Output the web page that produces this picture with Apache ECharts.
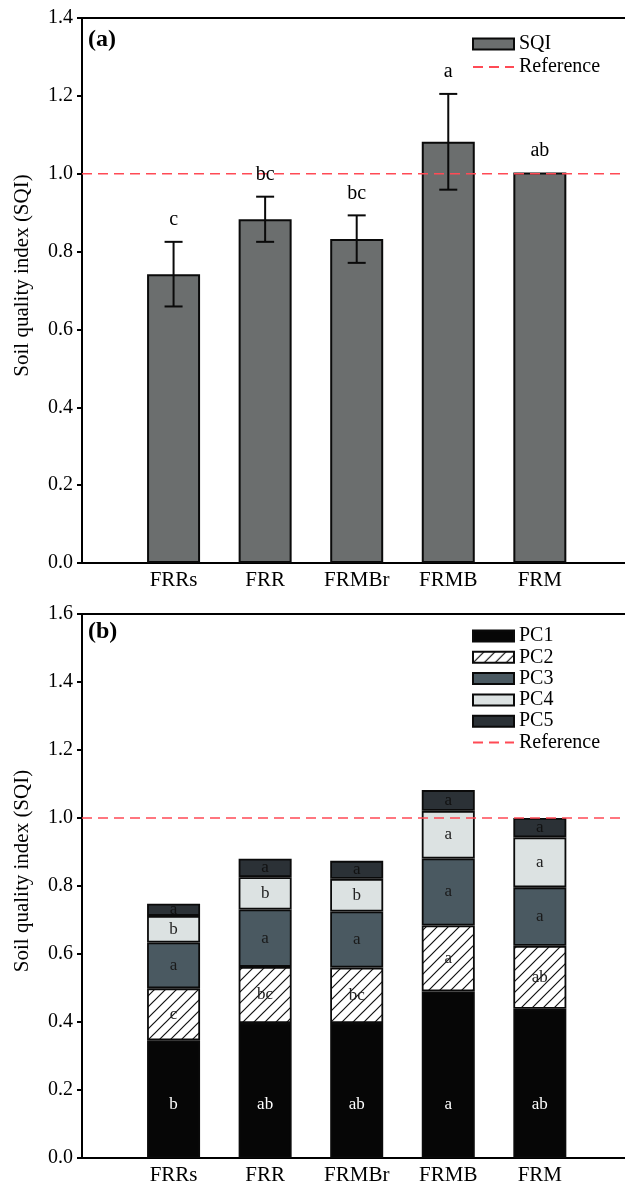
<!DOCTYPE html>
<html>
<head>
<meta charset="utf-8">
<script src="https://cdn.jsdelivr.net/npm/echarts@6/dist/echarts.min.js"></script>
<style>
html,body{margin:0;padding:0;background:#fff;}
#c{width:625px;height:1184px;}
</style>
</head>
<body>
<div id="c"></div>
<script>
// ---- data ----
const categories = ['FRRs', 'FRR', 'FRMBr', 'FRMB', 'FRM'];
const sqi = [0.742, 0.883, 0.832, 1.082, 1.003];
const sqiErr = [0.083, 0.058, 0.061, 0.123, 0];
const sqiLetters = ['c', 'bc', 'bc', 'a', 'ab'];
const pc1 = [0.346, 0.397, 0.397, 0.490, 0.439];
const pc2 = [0.153, 0.165, 0.163, 0.194, 0.185];
const pc3 = [0.135, 0.169, 0.165, 0.197, 0.172];
const pc4 = [0.078, 0.095, 0.096, 0.140, 0.147];
const pc5 = [0.036, 0.054, 0.053, 0.061, 0.057];
const pc1Letters = ['b', 'ab', 'ab', 'a', 'ab'];
const pc2Letters = ['c', 'bc', 'bc', 'a', 'ab'];
const pc3Letters = ['a', 'a', 'a', 'a', 'a'];
const pc4Letters = ['b', 'b', 'b', 'a', 'a'];
const pc5Letters = ['a', 'a', 'a', 'a', 'a'];
const referenceValue = 1.0;

// axis slots: empty slot before first and after last category
const axisCats = [''].concat(categories, ['']);

const FONT = '"Liberation Serif", "Times New Roman", serif';

// hatch pattern for PC2
function hatch() {
  const s = 11;
  const cv = document.createElement('canvas');
  cv.width = s; cv.height = s;
  const ctx = cv.getContext('2d');
  ctx.fillStyle = '#fff';
  ctx.fillRect(0, 0, s, s);
  ctx.strokeStyle = '#111';
  ctx.lineWidth = 1.2;
  ctx.beginPath();
  ctx.moveTo(-1, s + 1); ctx.lineTo(s + 1, -1);
  ctx.moveTo(-s / 2 - 1, s / 2 + 1); ctx.lineTo(s / 2 + 1, -s / 2 - 1);
  ctx.moveTo(s / 2 - 1, 1.5 * s + 1); ctx.lineTo(1.5 * s + 1, s / 2 - 1);
  ctx.stroke();
  return cv;
}

const pairs = arr => arr.map((v, i) => [categories[i], v]);

function xAxisCfg(gi) {
  return {
    type: 'category', gridIndex: gi, data: axisCats, boundaryGap: false,
    axisLine: { show: true, lineStyle: { color: '#000', width: 2 } },
    axisTick: { show: false },
    splitLine: { show: false },
    axisLabel: { interval: 0, fontFamily: FONT, fontSize: 21, color: '#000', margin: 7 }
  };
}
function topAxisCfg(gi) {
  return {
    type: 'value', gridIndex: gi, min: 0, max: 1, position: 'top',
    axisLine: { show: true, onZero: false, lineStyle: { color: '#000', width: 2 } },
    axisTick: { show: false }, axisLabel: { show: false }, splitLine: { show: false }
  };
}
function yAxisCfg(gi, max) {
  return {
    type: 'value', gridIndex: gi, min: 0, max: max, interval: 0.2,
    name: 'Soil quality index (SQI)', nameLocation: 'middle', nameGap: 49,
    nameTextStyle: { fontFamily: FONT, fontSize: 21, color: '#000', padding: [0, 0, 0, 30] },
    axisLine: { show: true, lineStyle: { color: '#000', width: 2 } },
    axisTick: { show: true, inside: false, length: 5, lineStyle: { color: '#000', width: 2 } },
    splitLine: { show: false },
    axisLabel: { fontFamily: FONT, fontSize: 20, color: '#000', margin: 9, formatter: v => v.toFixed(1) }
  };
}

const refLine = (xi, yi) => ({
  name: 'Reference', type: 'line', xAxisIndex: xi, yAxisIndex: yi,
  data: [[0, referenceValue], [axisCats.length - 1, referenceValue]],
  symbol: 'none', silent: true, z: 5,
  lineStyle: { color: '#ff4a55', width: 1.6, type: [10, 6] },
  itemStyle: { color: '#ff4a55' }
});

const pcSeries = (name, arr, letters, color, labelColor, extraLabel) => ({
  name: name, type: 'bar', stack: 'pc', xAxisIndex: 2, yAxisIndex: 1,
  barWidth: 53, data: pairs(arr),
  itemStyle: { color: color, borderColor: '#0a0a0a', borderWidth: 1.8 },
  label: Object.assign({
    show: true, position: 'inside', color: labelColor,
    fontFamily: FONT, fontSize: 17,
    formatter: p => letters[p.dataIndex]
  }, extraLabel || {})
});

const legendText = { fontFamily: FONT, fontSize: 20, lineHeight: 20, color: '#000' };
const refLegend = { name: 'Reference', itemStyle: { opacity: 0 } };

const chart = echarts.init(document.getElementById('c'), null, { renderer: 'canvas' });
const option = {
  animation: false,
  backgroundColor: '#fff',
  title: [
    { text: '(a)', left: 88, top: 28, padding: 0, textStyle: { fontFamily: FONT, fontSize: 24, fontWeight: 'bold', color: '#000' } },
    { text: '(b)', left: 88, top: 620, padding: 0, textStyle: { fontFamily: FONT, fontSize: 24, fontWeight: 'bold', color: '#000' } }
  ],
  grid: [
    { left: 82, right: -6.4, top: 18, height: 545, containLabel: false, outerBoundsMode: 'none' },
    { left: 82, right: -6.4, top: 614, height: 544, containLabel: false, outerBoundsMode: 'none' }
  ],
  xAxis: [xAxisCfg(0), topAxisCfg(0), xAxisCfg(1), topAxisCfg(1)],
  yAxis: [yAxisCfg(0, 1.4), yAxisCfg(1, 1.6)],
  legend: [
    {
      orient: 'vertical', left: 472, top: 34, itemWidth: 41, itemHeight: 11, itemGap: 3, itemTextGap: 6,
      padding: 0, textStyle: legendText,
      data: [{ name: 'SQI', icon: 'rect' }, refLegend]
    },
    {
      orient: 'vertical', left: 472, top: 626, itemWidth: 41, itemHeight: 11, itemGap: 1.3, itemTextGap: 10,
      padding: 0, textStyle: legendText,
      data: [
        { name: 'PC1', icon: 'rect' }, { name: 'PC2', icon: 'rect' }, { name: 'PC3', icon: 'rect' },
        { name: 'PC4', icon: 'rect' }, { name: 'PC5', icon: 'rect' }, refLegend
      ]
    }
  ],
  series: [
    {
      name: 'SQI', type: 'bar', xAxisIndex: 0, yAxisIndex: 0, barWidth: 53,
      data: pairs(sqi),
      itemStyle: { color: '#6b6e6e', borderColor: '#0a0a0a', borderWidth: 2 }
    },
    refLine(0, 0),
    {
      name: 'SQI err', type: 'custom', xAxisIndex: 0, yAxisIndex: 0, z: 6,
      data: sqi.map((v, i) => [categories[i], v - sqiErr[i], v + sqiErr[i]]),
      renderItem: (params, api) => {
        const x = api.value(0), lo = api.value(1), hi = api.value(2);
        const pt = api.coord([x, hi]);
        const pb = api.coord([x, lo]);
        const children = [];
        const ls = { stroke: '#0a0a0a', lineWidth: 2 };
        if (hi - lo > 1e-6) {
          children.push({ type: 'line', shape: { x1: pt[0], y1: pt[1], x2: pb[0], y2: pb[1] }, style: ls });
          children.push({ type: 'line', shape: { x1: pt[0] - 9, y1: pt[1], x2: pt[0] + 9, y2: pt[1] }, style: ls });
          children.push({ type: 'line', shape: { x1: pb[0] - 9, y1: pb[1], x2: pb[0] + 9, y2: pb[1] }, style: ls });
        }
        children.push({
          type: 'text', x: pt[0], y: pt[1] - 22,
          style: { text: sqiLetters[params.dataIndex], textAlign: 'center', textVerticalAlign: 'middle', font: '20px ' + FONT, fill: '#000' }
        });
        return { type: 'group', children: children };
      }
    },
    pcSeries('PC1', pc1, pc1Letters, '#060606', '#ffffff', { position: 'insideBottom', distance: 45 }),
    pcSeries('PC2', pc2, pc2Letters, { image: hatch(), repeat: 'repeat' }, '#222'),
    pcSeries('PC3', pc3, pc3Letters, '#4a5961', '#1a1a1a'),
    pcSeries('PC4', pc4, pc4Letters, '#dce2e2', '#222'),
    pcSeries('PC5', pc5, pc5Letters, '#2b3136', '#111'),
    refLine(2, 1)
  ]
};
chart.setOption(option);
</script>
</body>
</html>
